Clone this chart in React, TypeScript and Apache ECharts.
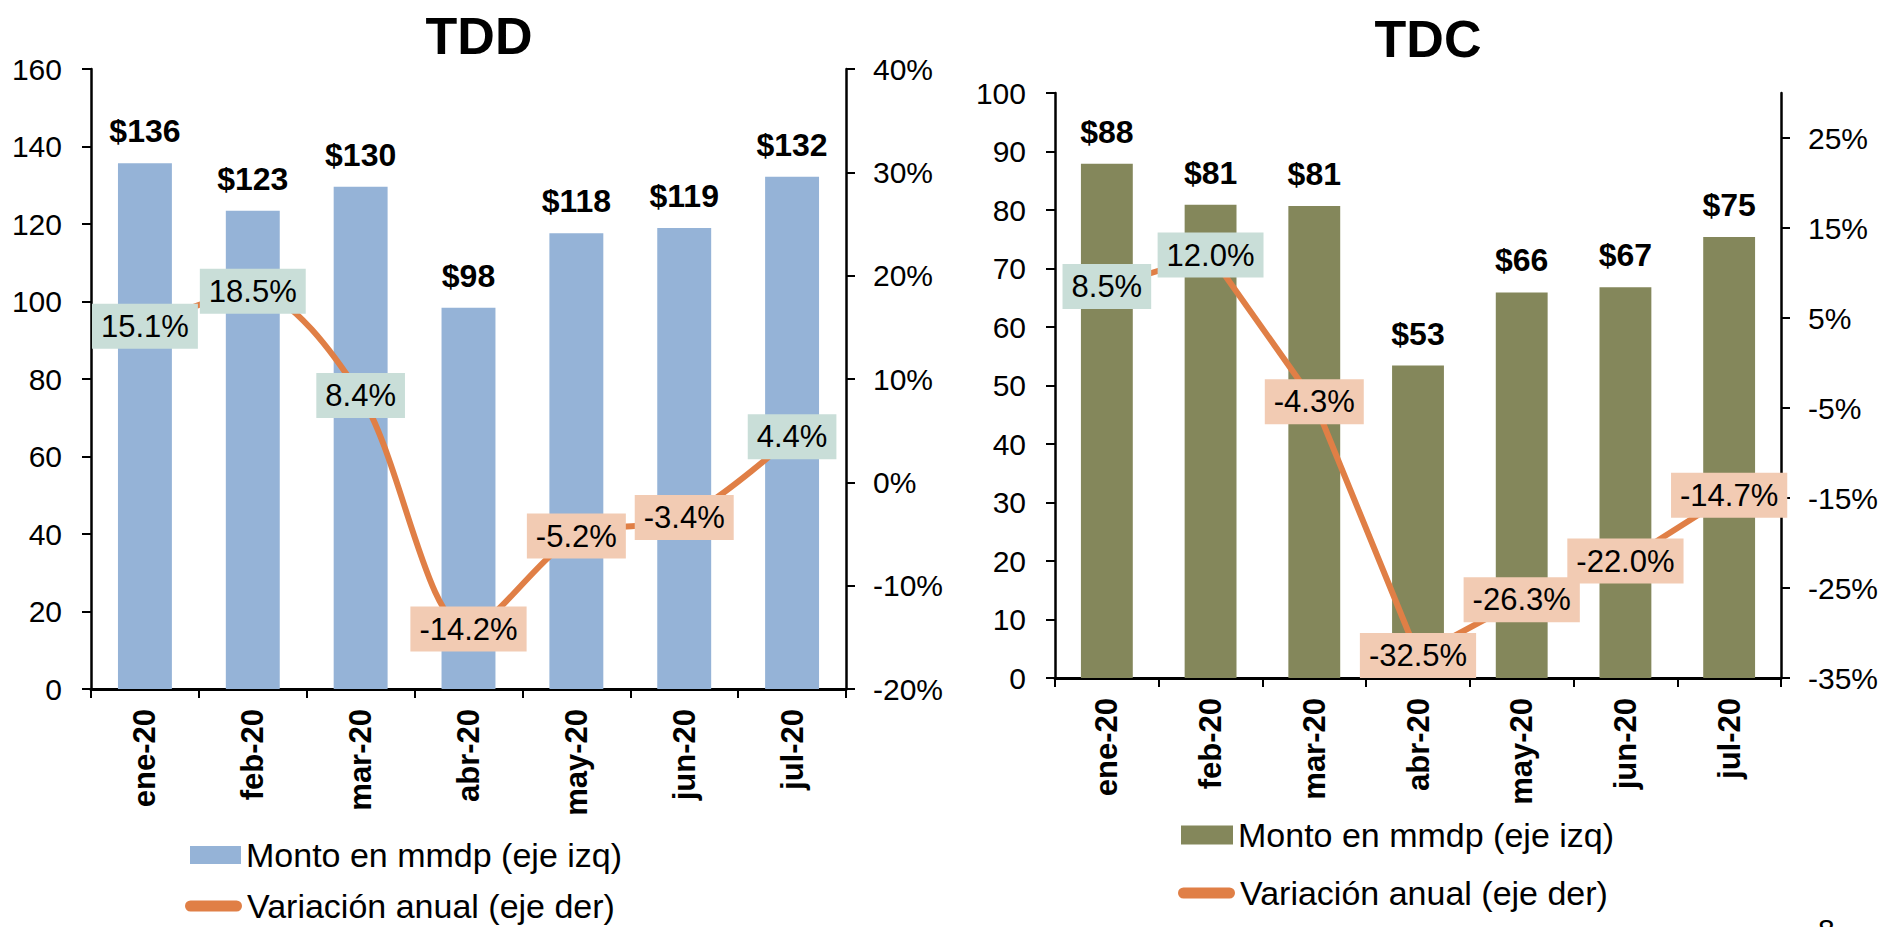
import { useEffect, useRef } from 'react';
import * as echarts from 'echarts';

// ---- data ----
const months = ['ene-20', 'feb-20', 'mar-20', 'abr-20', 'may-20', 'jun-20', 'jul-20'];
const tddMonto = [135.7, 123.4, 129.6, 98.4, 117.6, 119.0, 132.2];
const tddVar = [15.1, 18.5, 8.4, -14.2, -5.2, -3.4, 4.4];
const tdcMonto = [87.9, 80.9, 80.7, 53.4, 65.9, 66.8, 75.4];
const tdcVar = [8.5, 12.0, -4.3, -32.5, -26.3, -22.0, -14.7];
const tdcRightTicks = [-35, -25, -15, -5, 5, 15, 25];
const legendLabels: Record<string, string> = {
  'tdd-bar': 'Monto en mmdp (eje izq)',
  'tdd-line': 'Variación anual (eje der)',
  'tdc-bar': 'Monto en mmdp (eje izq)',
  'tdc-line': 'Variación anual (eje der)',
};

// ---- style ----
const FONT = '"Liberation Sans", Arial, sans-serif';
const BLUE = '#95B3D7';
const OLIVE = '#84875B';
const ORANGE = '#E07F46';
const POS_BG = '#C9DED8';
const NEG_BG = '#F2CBB3';
const CAPSULE = 'path://M5.5,0H51.5A5.5,5.5,0,0,1,51.5,11H5.5A5.5,5.5,0,0,1,5.5,0Z';

const axisLineStyle = { color: '#000', width: 2.5 };
const tickStyle = { color: '#000', width: 2 };
const tickLabel = { color: '#000', fontSize: 30, fontFamily: FONT };

function valueAxis(gridIndex: number, position: 'left' | 'right', extra: any) {
  return {
    type: 'value',
    gridIndex,
    position,
    splitLine: { show: false },
    axisLine: { show: true, lineStyle: axisLineStyle },
    axisTick: { show: true, length: 9, lineStyle: tickStyle, ...(extra.axisTick || {}) },
    axisLabel: { ...tickLabel, margin: position === 'left' ? 29 : 27, ...(extra.axisLabel || {}) },
    min: extra.min,
    max: extra.max,
    interval: extra.interval,
  };
}

function catAxis(gridIndex: number) {
  return {
    type: 'category',
    gridIndex,
    data: months,
    axisLine: { show: true, onZero: false, lineStyle: { color: '#000', width: 3 } },
    axisTick: { show: true, length: 9, lineStyle: tickStyle },
    axisLabel: {
      rotate: 90,
      margin: 20,
      color: '#000',
      fontSize: 31,
      fontWeight: 'bold',
      fontFamily: FONT,
    },
  };
}

function barSeries(name: string, idx: number, data: number[], color: string) {
  return {
    name,
    type: 'bar',
    xAxisIndex: idx,
    yAxisIndex: idx * 2,
    data,
    barWidth: '50%',
    itemStyle: { color },
    label: {
      show: true,
      position: 'top',
      distance: 16,
      formatter: (p: any) => '$' + Math.round(p.value),
      color: '#000',
      fontSize: 32,
      fontWeight: 'bold',
      fontFamily: FONT,
    },
  };
}

function lineSeries(name: string, idx: number, data: number[], smooth: number | boolean) {
  return {
    name,
    type: 'line',
    xAxisIndex: idx,
    yAxisIndex: idx * 2 + 1,
    smooth,
    symbol: 'circle',
    symbolSize: 2,
    z: 5,
    itemStyle: { color: ORANGE },
    lineStyle: { color: ORANGE, width: 6 },
    data: data.map((v) => ({ value: v, label: { backgroundColor: v >= 0 ? POS_BG : NEG_BG } })),
    label: {
      show: true,
      position: 'inside',
      formatter: (p: any) => Number(p.value).toFixed(1) + '%',
      color: '#000',
      fontSize: 31,
      fontFamily: FONT,
      lineHeight: 33,
      padding: [6, 9, 6, 9],
    },
  };
}

function legend(name: string, left: number, top: number, icon: string, w: number, h: number) {
  return {
    left,
    top,
    padding: 0,
    itemWidth: w,
    itemHeight: h,
    selectedMode: false,
    data: [{ name, icon }],
    formatter: (n: string) => legendLabels[n],
    textStyle: { color: '#000', fontSize: 34, fontFamily: FONT, lineHeight: 32 },
  };
}

const option: any = {
  animation: false,
  backgroundColor: '#fff',
  textStyle: { fontFamily: FONT },
  title: [
    {
      text: 'TDD', left: 479, top: 36, padding: 0, textAlign: 'center', textVerticalAlign: 'middle',
      textStyle: { fontSize: 52, fontWeight: 'bold', color: '#000', fontFamily: FONT },
    },
    {
      text: 'TDC', left: 1428, top: 39, padding: 0, textAlign: 'center', textVerticalAlign: 'middle',
      textStyle: { fontSize: 52, fontWeight: 'bold', color: '#000', fontFamily: FONT },
    },
  ],
  grid: [
    { left: 91, top: 69, width: 755, height: 620, containLabel: false },
    { left: 1055, top: 93, width: 726, height: 585, containLabel: false },
  ],
  xAxis: [catAxis(0), catAxis(1)],
  yAxis: [
    valueAxis(0, 'left', { min: 0, max: 160, interval: 20 }),
    valueAxis(0, 'right', { min: -20, max: 40, interval: 10, axisLabel: { formatter: '{value}%' } }),
    valueAxis(1, 'left', { min: 0, max: 100, interval: 10 }),
    valueAxis(1, 'right', {
      min: -35,
      max: 30,
      axisLabel: { formatter: '{value}%', customValues: tdcRightTicks },
      axisTick: { customValues: tdcRightTicks },
    }),
  ],
  legend: [
    legend('tdd-bar', 190, 838, 'rect', 51, 18),
    legend('tdd-line', 185, 889, CAPSULE, 57, 11),
    legend('tdc-bar', 1181, 818, 'rect', 52, 19),
    legend('tdc-line', 1178, 876, CAPSULE, 57, 11),
  ],
  series: [
    barSeries('tdd-bar', 0, tddMonto, BLUE),
    lineSeries('tdd-line', 0, tddVar, 0.3),
    barSeries('tdc-bar', 1, tdcMonto, OLIVE),
    lineSeries('tdc-line', 1, tdcVar, false),
  ],
  graphic: [
    {
      type: 'text',
      left: 1818,
      top: 914,
      style: { text: '8', fontSize: 30, fontFamily: FONT, fill: '#000' },
    },
  ],
};

export default function App() {
  const ref = useRef<HTMLDivElement>(null);
  useEffect(() => {
    const chart = echarts.init(ref.current!, null, { renderer: 'svg' });
    chart.setOption(option);
    return () => chart.dispose();
  }, []);
  return (
    <div
      ref={ref}
      style={{ position: 'fixed', left: 0, top: 0, width: 1885, height: 927, background: '#fff' }}
    />
  );
}
